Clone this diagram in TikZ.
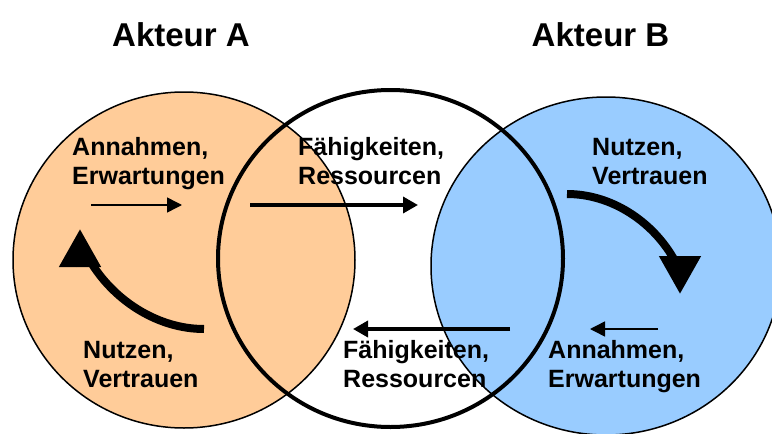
\documentclass[tikz,border=0pt]{standalone}
\usepackage{fontspec}
\setmainfont{Liberation Sans}
\usetikzlibrary{arrows.meta}
\definecolor{orangefill}{HTML}{FFCC99}
\definecolor{bluefill}{HTML}{99CCFF}
\begin{document}
\begin{tikzpicture}[x=1pt,y=-1pt,
  lbl/.style={anchor=base west,align=left,inner sep=0pt,font=\fontsize{25}{29}\selectfont\bfseries},
  ttl/.style={anchor=base,inner sep=0pt,font=\fontsize{33}{38}\selectfont\bfseries},
  thinarrow/.style={line width=1.5pt,-{Triangle[length=15pt,width=15pt]}},
  midarrow/.style={line width=3.5pt,-{Triangle[length=15pt,width=16pt]}},
  bigshaft/.style={line width=8pt},
  bighead/.style={line width=8pt,-{Triangle[length=38pt,width=40pt]}}]
\useasboundingbox (0,0) rectangle (772,434);
% circles
\draw[fill=orangefill,line width=1.5pt] (184,260) ellipse [x radius=171,y radius=168];
\draw[fill=bluefill,line width=1.5pt] (606,266) ellipse [x radius=175,y radius=169];
\draw[line width=4pt] (390.5,258.5) ellipse [x radius=172.5,y radius=168.5];
% titles
\node[ttl] (ta) at (181,46) {Akteur A};
\node[ttl] (tb) at (600.5,46) {Akteur B};
% labels (anchor = baseline of the second line)
\node[lbl] (la1) at (72,184) {Annahmen,\\Erwartungen};
\node[lbl] (lm1) at (298,184) {Fähigkeiten,\\Ressourcen};
\node[lbl] (lr1) at (592,184) {Nutzen,\\Vertrauen};
\node[lbl] (la2) at (83,387) {Nutzen,\\Vertrauen};
\node[lbl] (lm2) at (343,387) {Fähigkeiten,\\Ressourcen};
\node[lbl] (lr2) at (548,387) {Annahmen,\\Erwartungen};
% arrow end points
\coordinate (a1s) at (91,205);  \coordinate (a1e) at (182,205);
\coordinate (a2s) at (250,205); \coordinate (a2e) at (418,205);
\coordinate (a3s) at (510,329); \coordinate (a3e) at (353,329);
\coordinate (a4s) at (658,329); \coordinate (a4e) at (590,329);
\coordinate (b1s) at (567,194); \coordinate (b1m) at (675,261); \coordinate (b1j) at (680,256); \coordinate (b1e) at (680,294);
\coordinate (b2s) at (204,329); \coordinate (b2m) at (92,264); \coordinate (b2j) at (80,267); \coordinate (b2e) at (80,229);
% arrows
\draw[thinarrow] (a1s) -- (a1e);
\draw[midarrow] (a2s) -- (a2e);
\draw[midarrow] (a3s) -- (a3e);
\draw[thinarrow] (a4s) -- (a4e);
\draw[bigshaft] (b1s) .. controls (611,194) and (653,221) .. (b1m);
\draw[bighead] (b1j) -- (b1e);
\draw[bigshaft] (b2s) .. controls (159,329) and (116,302) .. (b2m);
\draw[bighead] (b2j) -- (b2e);
\end{tikzpicture}
\end{document}
